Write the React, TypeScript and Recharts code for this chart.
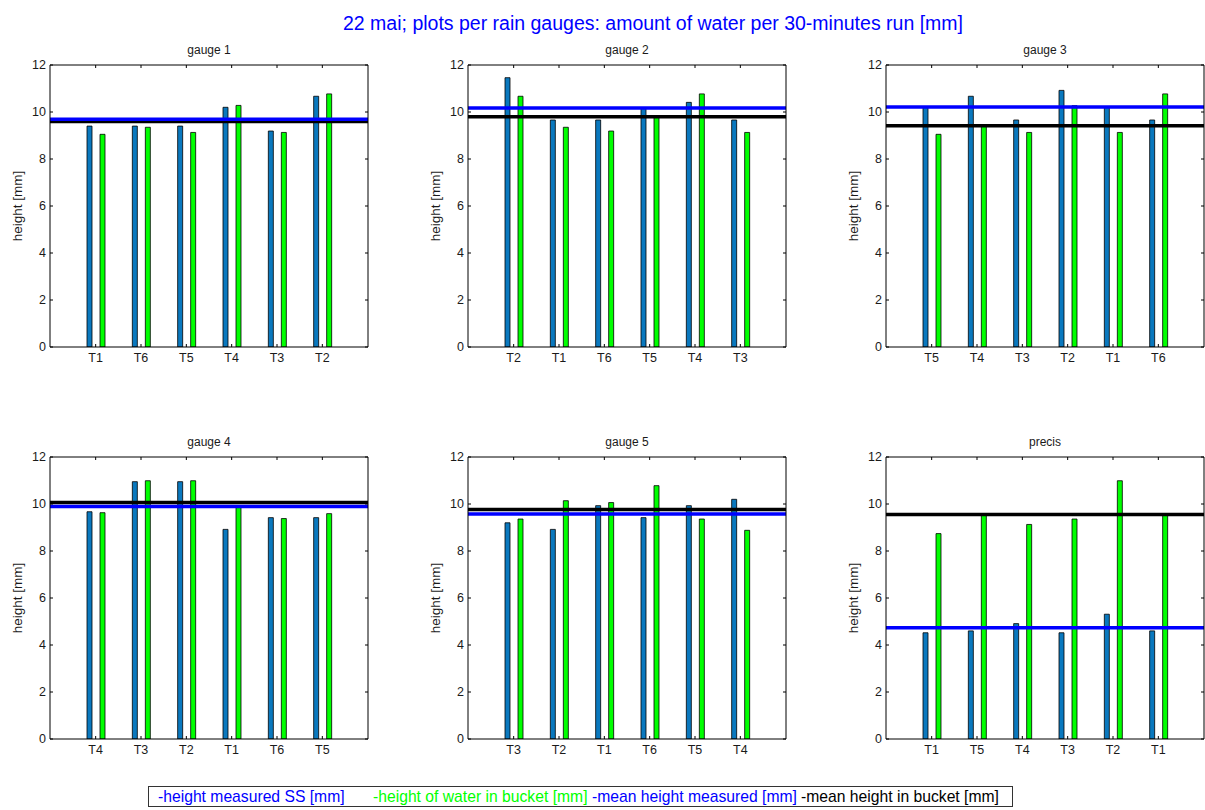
import React from 'react';
import { ComposedChart, Bar, Line, XAxis, YAxis, ReferenceLine } from 'recharts';

const mainTitle = '22 mai; plots per rain gauges: amount of water per 30-minutes run [mm]';
const panelTitles = ['gauge 1', 'gauge 2', 'gauge 3', 'gauge 4', 'gauge 5', 'precis'];

const cats1 = ['T1', 'T6', 'T5', 'T4', 'T3', 'T2'];
const cats2 = ['T2', 'T1', 'T6', 'T5', 'T4', 'T3'];
const cats3 = ['T5', 'T4', 'T3', 'T2', 'T1', 'T6'];
const cats4 = ['T4', 'T3', 'T2', 'T1', 'T6', 'T5'];
const cats5 = ['T3', 'T2', 'T1', 'T6', 'T5', 'T4'];
const cats6 = ['T1', 'T5', 'T4', 'T3', 'T2', 'T1'];

const ss1 = [9.4, 9.4, 9.4, 10.2, 9.19, 10.67];
const bucket1 = [9.05, 9.35, 9.13, 10.28, 9.13, 10.77];
const ss2 = [11.46, 9.66, 9.66, 10.16, 10.41, 9.66];
const bucket2 = [10.67, 9.35, 9.19, 9.8, 10.77, 9.13];
const ss3 = [10.2, 10.67, 9.66, 10.92, 10.2, 9.66];
const bucket3 = [9.05, 9.4, 9.13, 10.27, 9.13, 10.77];
const ss4 = [9.67, 10.95, 10.95, 8.92, 9.42, 9.42];
const bucket4 = [9.63, 10.99, 10.99, 9.87, 9.38, 9.59];
const ss5 = [9.2, 8.92, 9.93, 9.42, 9.93, 10.2];
const bucket5 = [9.36, 10.14, 10.06, 10.78, 9.36, 8.88];
const ss6 = [4.52, 4.6, 4.91, 4.52, 5.31, 4.6];
const bucket6 = [8.74, 9.55, 9.13, 9.36, 10.99, 9.55];

const meanSS = [9.69, 10.17, 10.21, 9.89, 9.57, 4.73];
const meanBucket = [9.6, 9.8, 9.42, 10.06, 9.77, 9.55];

const yTicks = [0, 2, 4, 6, 8, 10, 12];

const legendItems = [
  { text: '-height measured SS [mm]', color: '#0000ff' },
  { text: '-height of water in bucket [mm]', color: '#00ff00' },
  { text: '-mean height measured [mm]', color: '#0000ff' },
  { text: '-mean height in bucket [mm]', color: '#000000' },
];
const legendLefts = [9, 224, 443, 652];

const cats = [cats1, cats2, cats3, cats4, cats5, cats6];
const ssAll = [ss1, ss2, ss3, ss4, ss5, ss6];
const bucketAll = [bucket1, bucket2, bucket3, bucket4, bucket5, bucket6];

const colLefts = [50, 468, 886];
const rowTops = [65, 457];
const AX_W = 318;
const AX_H = 282;
const FONT = 'Liberation Sans, Arial, Helvetica, sans-serif';

function Panel({ idx }: { idx: number }) {
  const data = cats[idx].map((c, i) => ({ cat: c, key: i, ss: ssAll[idx][i], bucket: bucketAll[idx][i] }));
  const axL = colLefts[idx % 3];
  const axT = rowTops[Math.floor(idx / 3)];
  const left = axL - 50;
  const top = axT - 10;
  const tickStyle = { fontSize: 12.5, fill: '#1a1a1a', fontFamily: FONT };
  return (
    <div style={{ position: 'absolute', left, top }}>
      <ComposedChart
        width={AX_W + 60}
        height={AX_H + 40}
        data={data}
        margin={{ top: 9, right: 9, bottom: 5, left: 10 }}
        barSize={5}
        barGap={8}
      >
        <XAxis
          dataKey="key"
          tickFormatter={(v: any, i: number) => cats[idx][i]}
          interval={0}
          padding={{ left: 23, right: 23 }}
          height={25}
          tickSize={-3}
          tickMargin={9}
          stroke="#000"
          tick={tickStyle}
        />
        <XAxis
          xAxisId="top"
          dataKey="key"
          orientation="top"
          interval={0}
          padding={{ left: 23, right: 23 }}
          height={1}
          tickSize={-3}
          tickFormatter={() => ''}
          stroke="#000"
        />
        <YAxis
          domain={[0, 12]}
          ticks={yTicks}
          interval={0}
          width={40}
          tickSize={-3}
          tickMargin={7}
          stroke="#000"
          tick={tickStyle}
          allowDataOverflow
          label={{
            value: 'height [mm]',
            angle: -90,
            position: 'insideLeft',
            offset: 7,
            style: { textAnchor: 'middle', fontSize: 13.5, fill: '#1a1a1a', fontFamily: FONT },
          }}
        />
        <YAxis
          yAxisId="right"
          orientation="right"
          domain={[0, 12]}
          ticks={yTicks}
          interval={0}
          width={1}
          tickSize={-3}
          tickFormatter={() => ''}
          stroke="#000"
          allowDataOverflow
        />
        <Line
          xAxisId="top"
          yAxisId="right"
          dataKey="ss"
          stroke="none"
          strokeWidth={0}
          dot={false}
          activeDot={false}
          legendType="none"
          isAnimationActive={false}
        />
        <Bar dataKey="ss" fill="#0a78be" stroke="#000" strokeWidth={0.8} isAnimationActive={false} />
        <Bar dataKey="bucket" fill="#00ff00" stroke="#000" strokeWidth={0.8} isAnimationActive={false} />
        <ReferenceLine y={meanBucket[idx]} stroke="#000" strokeWidth={3.5} />
        <ReferenceLine y={meanSS[idx]} stroke="#0000ff" strokeWidth={3.5} />
      </ComposedChart>
      <div
        style={{
          position: 'absolute',
          left: 50,
          top: -12,
          width: AX_W,
          textAlign: 'center',
          fontFamily: FONT,
          fontSize: 12,
          color: '#1a1a1a',
          lineHeight: '14px',
        }}
      >
        {panelTitles[idx]}
      </div>
    </div>
  );
}

export default function App() {
  return (
    <div style={{ position: 'absolute', left: 0, top: 0, width: 1205, height: 810, background: '#fff', overflow: 'hidden' }}>
      <div
        style={{
          position: 'absolute',
          left: 253,
          top: 12,
          width: 800,
          textAlign: 'center',
          fontFamily: FONT,
          fontSize: 19.5,
          color: '#0000ff',
          lineHeight: '22px',
          whiteSpace: 'nowrap',
        }}
      >
        {mainTitle}
      </div>
      {[0, 1, 2, 3, 4, 5].map((i) => (
        <Panel key={i} idx={i} />
      ))}
      <div
        style={{
          position: 'absolute',
          left: 148,
          top: 786,
          width: 865,
          height: 21,
          border: '1px solid #333',
          boxSizing: 'border-box',
          fontFamily: FONT,
          fontSize: 15.7,
          lineHeight: '19px',
          whiteSpace: 'nowrap',
        }}
      >
        {legendItems.map((it, i) => (
          <span key={i} style={{ position: 'absolute', left: legendLefts[i], color: it.color }}>
            {it.text}
          </span>
        ))}
      </div>
    </div>
  );
}
